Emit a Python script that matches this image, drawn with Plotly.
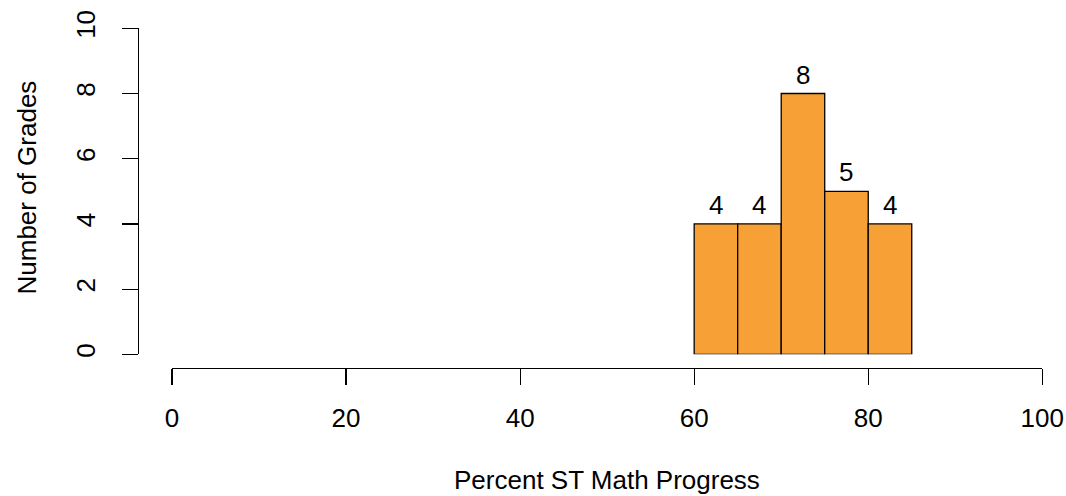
import plotly.graph_objects as go

bin_starts = [60, 65, 70, 75, 80]
bin_width = 5
counts = [4, 4, 8, 5, 4]
x_ticks = [0, 20, 40, 60, 80, 100]
y_ticks = [0, 2, 4, 6, 8, 10]

W, H = 1066, 496
FONT = "Liberation Sans, Arial, Helvetica, sans-serif"
FS = 26
BAR_COLOR = "#F7A035"

def px_x(p):
    return p / W

def px_y(p):
    return (H - p) / H

fig = go.Figure()
fig.add_trace(go.Bar(
    x=bin_starts, y=counts, width=[bin_width] * len(counts), offset=0,
    marker=dict(color=BAR_COLOR, line=dict(color="black", width=1.3)),
    showlegend=False, hoverinfo="skip",
))

for xs, c in zip(bin_starts, counts):
    fig.add_annotation(x=xs + bin_width / 2, y=c, text=str(c), showarrow=False,
                       xref="x", yref="y", yanchor="bottom", yshift=2,
                       font=dict(family=FONT, size=FS, color="black"))

fig.add_annotation(x=px_x(606.5), y=px_y(480), xref="paper", yref="paper",
                   text="Percent ST Math Progress", showarrow=False,
                   xanchor="center", yanchor="middle",
                   font=dict(family=FONT, size=FS, color="black"))
fig.add_annotation(x=px_x(26), y=px_y(187.5), xref="paper", yref="paper",
                   text="Number of Grades", showarrow=False, textangle=-90,
                   xanchor="center", yanchor="middle",
                   font=dict(family=FONT, size=FS, color="black"))

fig.update_layout(
    template="none",
    width=W, height=H,
    margin=dict(l=0, r=0, t=0, b=0, autoexpand=False),
    paper_bgcolor="white", plot_bgcolor="white",
    font=dict(family=FONT, size=FS, color="black"),
    xaxis=dict(domain=[px_x(172), px_x(1042.3)], range=[0, 100],
               anchor="free", position=px_y(367.7), automargin=False,
               tickvals=x_ticks, ticks="outside", ticklen=16, tickwidth=1.2,
               tickcolor="black", showline=True, linecolor="black", linewidth=1.2,
               showgrid=False, zeroline=False, ticklabelstandoff=11,
               tickfont=dict(family=FONT, size=FS, color="black")),
    yaxis=dict(domain=[px_y(354.3), px_y(28.3)], range=[0, 10],
               anchor="free", position=px_x(137.7), automargin=False,
               tickvals=y_ticks, ticks="outside", ticklen=16, tickwidth=1.2,
               tickcolor="black", showline=True, linecolor="black", linewidth=1.2,
               showgrid=False, zeroline=False, tickangle=-90, ticklabelstandoff=16,
               tickfont=dict(family=FONT, size=FS, color="black")),
)

fig.write_html("out.html",
               config={"displayModeBar": False, "staticPlot": True},
               post_script="document.body.style.margin='0';document.body.style.overflow='hidden';")
